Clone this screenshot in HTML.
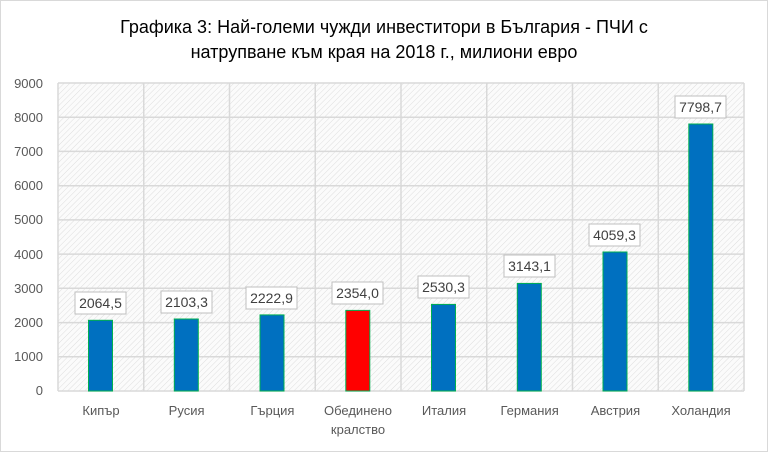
<!DOCTYPE html>
<html><head><meta charset="utf-8"><style>
body{margin:0;background:#fff;}
svg{display:block;font-family:"Liberation Sans","DejaVu Sans",sans-serif;}
</style></head><body>
<svg width="768" height="452" viewBox="0 0 768 452">
<defs>
<pattern id="h" width="4" height="4" patternUnits="userSpaceOnUse" patternTransform="rotate(45)">
<rect width="4" height="4" fill="#fbfbfb"/><line x1="0" y1="0" x2="0" y2="4" stroke="#dedede" stroke-width="1"/>
</pattern>
</defs>
<rect x="0.5" y="0.5" width="767" height="451" fill="#fff" stroke="#d9d9d9"/>
<text x="384" y="33" text-anchor="middle" font-size="18" fill="#000">Графика 3: Най-големи чужди инвеститори в България - ПЧИ с</text>
<text x="384" y="58" text-anchor="middle" font-size="18" fill="#000">натрупване към края на 2018 г., милиони евро</text>
<rect x="58" y="83" width="686" height="308" fill="url(#h)"/>
<g stroke="#d9d9d9" stroke-width="1.5" fill="none">
<line x1="58" y1="83" x2="744" y2="83"/><line x1="58" y1="117.2" x2="744" y2="117.2"/><line x1="58" y1="151.4" x2="744" y2="151.4"/><line x1="58" y1="185.7" x2="744" y2="185.7"/><line x1="58" y1="219.9" x2="744" y2="219.9"/><line x1="58" y1="254.1" x2="744" y2="254.1"/><line x1="58" y1="288.3" x2="744" y2="288.3"/><line x1="58" y1="322.6" x2="744" y2="322.6"/><line x1="58" y1="356.8" x2="744" y2="356.8"/><line x1="58" y1="391" x2="744" y2="391"/>
<line x1="58" y1="83" x2="58" y2="391"/><line x1="143.75" y1="83" x2="143.75" y2="391"/><line x1="229.5" y1="83" x2="229.5" y2="391"/><line x1="315.25" y1="83" x2="315.25" y2="391"/><line x1="401" y1="83" x2="401" y2="391"/><line x1="486.75" y1="83" x2="486.75" y2="391"/><line x1="572.5" y1="83" x2="572.5" y2="391"/><line x1="658.25" y1="83" x2="658.25" y2="391"/><line x1="744" y1="83" x2="744" y2="391"/>
</g>
<g font-size="13" fill="#595959" text-anchor="end">
<text x="43" y="88">9000</text><text x="43" y="122">8000</text><text x="43" y="156">7000</text><text x="43" y="190">6000</text><text x="43" y="224">5000</text><text x="43" y="259">4000</text><text x="43" y="293">3000</text><text x="43" y="327">2000</text><text x="43" y="361">1000</text><text x="43" y="395">0</text>
</g>
<g stroke="#00b050" stroke-width="1">
<rect x="88.5" y="320.3" width="24" height="70.7" fill="#0070c0"/>
<rect x="174.3" y="319" width="24" height="72" fill="#0070c0"/>
<rect x="260" y="314.9" width="24" height="76.1" fill="#0070c0"/>
<rect x="345.8" y="310.4" width="24" height="80.6" fill="#ff0000"/>
<rect x="431.5" y="304.4" width="24" height="86.6" fill="#0070c0"/>
<rect x="517.3" y="283.4" width="24" height="107.6" fill="#0070c0"/>
<rect x="603" y="252" width="24" height="139" fill="#0070c0"/>
<rect x="688.8" y="124" width="24" height="267" fill="#0070c0"/>
</g>
<g font-size="14" fill="#404040" text-anchor="middle">
<g fill="#fff" stroke="#bfbfbf">
<rect x="75" y="292" width="51" height="22"/><rect x="161" y="291" width="51" height="22"/><rect x="246" y="287" width="51" height="22"/><rect x="332" y="282" width="51" height="22"/><rect x="418" y="276" width="51" height="22"/><rect x="504" y="255" width="51" height="22"/><rect x="589" y="224" width="51" height="22"/><rect x="675" y="96" width="51" height="22"/>
</g>
<text x="100.5" y="308">2064,5</text><text x="186.5" y="307">2103,3</text><text x="271.5" y="303">2222,9</text><text x="357.5" y="298">2354,0</text><text x="443.5" y="292">2530,3</text><text x="529.5" y="271">3143,1</text><text x="614.5" y="240">4059,3</text><text x="700.5" y="112">7798,7</text>
</g>
<g font-size="13" fill="#595959" text-anchor="middle">
<text x="101" y="415">Кипър</text><text x="186.6" y="415">Русия</text><text x="272.4" y="415">Гърция</text><text x="358" y="415">Обединено</text><text x="358" y="434">кралство</text><text x="444" y="415">Италия</text><text x="529.6" y="415">Германия</text><text x="615.4" y="415">Австрия</text><text x="701" y="415">Холандия</text>
</g>
</svg>
</body></html>
